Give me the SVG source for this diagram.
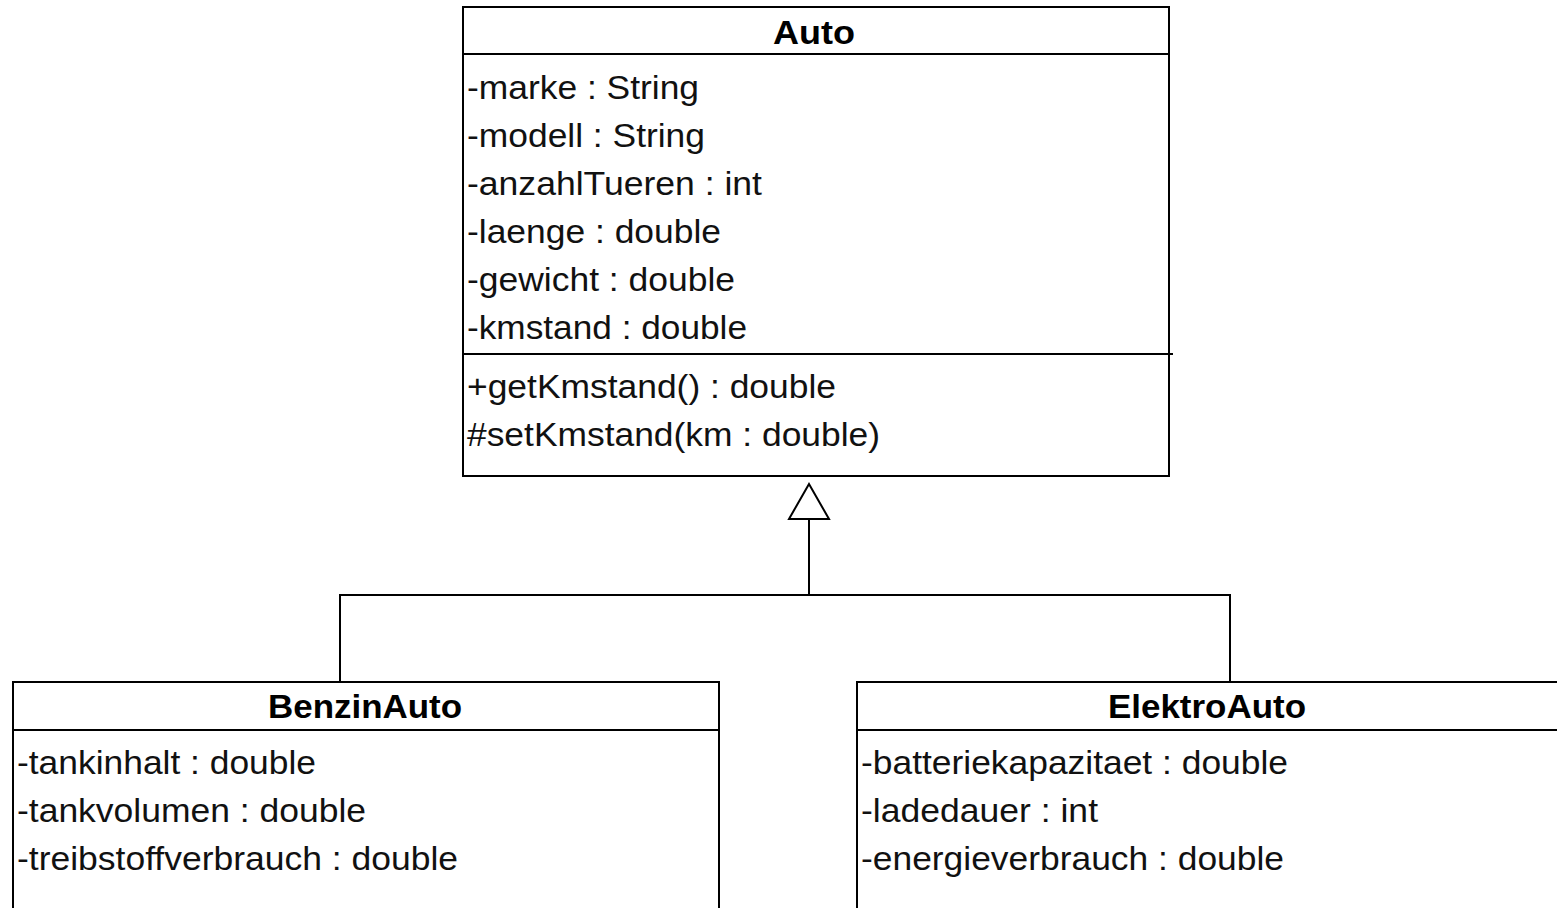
<svg xmlns="http://www.w3.org/2000/svg" width="1557" height="908" viewBox="0 0 1557 908">
  <style>
    .box { fill: #ffffff; stroke: #000000; stroke-width: 2; }
    .sep { stroke: #000000; stroke-width: 2; fill: none; }
    .name { font-family: "Liberation Sans", Arial, sans-serif; font-size: 33px; font-weight: bold; fill: #000000; }
    .member { font-family: "Liberation Sans", Arial, sans-serif; font-size: 33px; fill: #111111; }
    .edge { stroke: #000000; stroke-width: 2; fill: none; }
    .head { stroke: #000000; stroke-width: 2; fill: #ffffff; }
  </style>

  <!-- generalization connectors -->
  <g id="connectors">
    <polyline class="edge" points="340,682 340,595 1230,595 1230,682"/>
    <line class="edge" x1="809" y1="595" x2="809" y2="519"/>
    <polygon class="head" points="809,484 789,519 829,519"/>
  </g>

  <!-- superclass -->
  <g id="Auto">
    <rect class="box" x="463" y="7" width="706" height="469"/>
    <line class="sep" x1="463" y1="54" x2="1169" y2="54"/>
    <line class="sep" x1="463" y1="354" x2="1173" y2="354"/>
    <text class="name" x="773" y="44" textLength="82" lengthAdjust="spacingAndGlyphs">Auto</text>
    <text class="member" x="467" y="99" textLength="232" lengthAdjust="spacingAndGlyphs">-marke : String</text>
    <text class="member" x="467" y="147" textLength="238" lengthAdjust="spacingAndGlyphs">-modell : String</text>
    <text class="member" x="467" y="195" textLength="295" lengthAdjust="spacingAndGlyphs">-anzahlTueren : int</text>
    <text class="member" x="467" y="243" textLength="254" lengthAdjust="spacingAndGlyphs">-laenge : double</text>
    <text class="member" x="467" y="291" textLength="268" lengthAdjust="spacingAndGlyphs">-gewicht : double</text>
    <text class="member" x="467" y="339" textLength="280" lengthAdjust="spacingAndGlyphs">-kmstand : double</text>
    <text class="member" x="467" y="398" textLength="369" lengthAdjust="spacingAndGlyphs">+getKmstand() : double</text>
    <text class="member" x="467" y="446" textLength="413" lengthAdjust="spacingAndGlyphs">#setKmstand(km : double)</text>
  </g>

  <!-- subclass: petrol car -->
  <g id="BenzinAuto">
    <rect class="box" x="13" y="682" width="706" height="240"/>
    <line class="sep" x1="13" y1="730" x2="719" y2="730"/>
    <text class="name" x="268" y="718" textLength="194" lengthAdjust="spacingAndGlyphs">BenzinAuto</text>
    <text class="member" x="17" y="774" textLength="299" lengthAdjust="spacingAndGlyphs">-tankinhalt : double</text>
    <text class="member" x="17" y="822" textLength="349" lengthAdjust="spacingAndGlyphs">-tankvolumen : double</text>
    <text class="member" x="17" y="870" textLength="441" lengthAdjust="spacingAndGlyphs">-treibstoffverbrauch : double</text>
  </g>

  <!-- subclass: electric car -->
  <g id="ElektroAuto">
    <rect class="box" x="857" y="682" width="706" height="240"/>
    <line class="sep" x1="857" y1="730" x2="1563" y2="730"/>
    <text class="name" x="1108" y="718" textLength="198" lengthAdjust="spacingAndGlyphs">ElektroAuto</text>
    <text class="member" x="861" y="774" textLength="427" lengthAdjust="spacingAndGlyphs">-batteriekapazitaet : double</text>
    <text class="member" x="861" y="822" textLength="237" lengthAdjust="spacingAndGlyphs">-ladedauer : int</text>
    <text class="member" x="861" y="870" textLength="423" lengthAdjust="spacingAndGlyphs">-energieverbrauch : double</text>
  </g>
</svg>
